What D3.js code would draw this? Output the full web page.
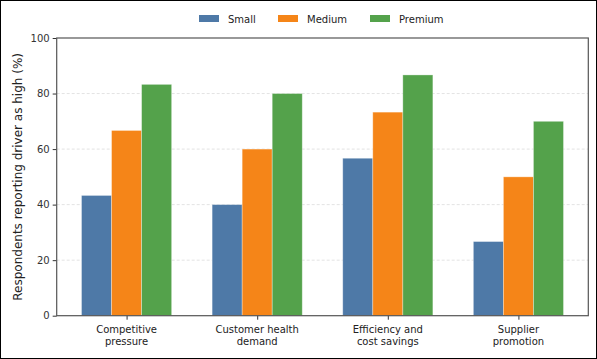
<!DOCTYPE html>
<html><head><meta charset="utf-8">
<script src="https://cdn.jsdelivr.net/npm/d3@7"></script>
<style>body{margin:0;background:#fff}svg{display:block}</style>
</head><body>
<script>
const categories = [["Competitive","pressure"],["Customer health","demand"],["Efficiency and","cost savings"],["Supplier","promotion"]];
const seriesNames = ["Small","Medium","Premium"];
const small = [43.3, 40, 56.7, 26.7];
const medium = [66.7, 60, 73.3, 50];
const premium = [83.3, 80, 86.7, 70];
const yTicks = [0,20,40,60,80,100];
const colors = ["#4e79a7","#f58518","#54a24b"];
const values = [small, medium, premium];

const W=597,H=359;
const svg=d3.select("body").append("svg").attr("width",W).attr("height",H);
svg.append("rect").attr("x",0.5).attr("y",0.5).attr("width",W-1).attr("height",H-1).attr("fill","#fff").attr("stroke","#000");
const L=56.7,R=588.3,T=38,B=315.7;
const x=d3.scaleLinear().domain([-0.535,3.535]).range([L,R]);
const y=d3.scaleLinear().domain([0,100]).range([B,T]);
const bw=0.23;
const font="DejaVu Sans";

// grid
svg.append("g").selectAll("line").data(yTicks.filter(d=>d>0&&d<100)).join("line")
 .attr("x1",L).attr("x2",R).attr("y1",d=>y(d)).attr("y2",d=>y(d))
 .attr("stroke","#dcdcdc").attr("stroke-width",0.8).attr("stroke-dasharray","3,2");

// bars
values.forEach((vals,si)=>{
  svg.append("g").selectAll("rect").data(vals).join("rect")
   .attr("x",(d,i)=>x(i+(si-1)*bw-bw/2)).attr("width",x(bw)-x(0))
   .attr("y",d=>y(d)).attr("height",d=>B-y(d))
   .attr("fill",colors[si]).attr("stroke","#fff").attr("stroke-opacity",0.4).attr("stroke-width",0.8);
});

// axes
const ya=d3.axisLeft(y).tickValues(yTicks).tickSize(4).tickPadding(3);
const yg=svg.append("g").attr("transform",`translate(${L},0)`).call(ya);
yg.select(".domain").remove();
yg.selectAll("line").attr("stroke","#333");
yg.selectAll("text").attr("font-family",font).attr("font-size",10).attr("fill","#333");

const xa=d3.axisBottom(x).tickValues([0,1,2,3]).tickSize(4).tickFormat("");
const xg=svg.append("g").attr("transform",`translate(0,${B})`).call(xa);
xg.select(".domain").remove();
xg.selectAll("line").attr("stroke","#333");
categories.forEach((c,i)=>{
  const t=svg.append("text").attr("x",x(i)).attr("y",B+17).attr("text-anchor","middle")
   .attr("font-family",font).attr("font-size",10).attr("fill","#222");
  c.forEach((s,k)=>t.append("tspan").attr("x",x(i)).attr("dy",k?12:0).text(s));
});

// spines
svg.append("rect").attr("x",L).attr("y",T).attr("width",R-L).attr("height",B-T)
 .attr("fill","none").attr("stroke","#555").attr("stroke-width",1.2);

// y label
svg.append("text").attr("transform",`translate(22,${(T+B)/2}) rotate(-90)`).attr("text-anchor","middle")
 .attr("font-family",font).attr("font-size",12).attr("fill","#222").text("Respondents reporting driver as high (%)");

// legend
const lx=[199,278,370];
seriesNames.forEach((n,i)=>{
  svg.append("rect").attr("x",lx[i]).attr("y",15).attr("width",20).attr("height",7).attr("fill",colors[i]);
  svg.append("text").attr("x",lx[i]+29).attr("y",22.5).attr("font-family",font).attr("font-size",10).attr("fill","#222").text(n);
});
</script>
</body></html>
